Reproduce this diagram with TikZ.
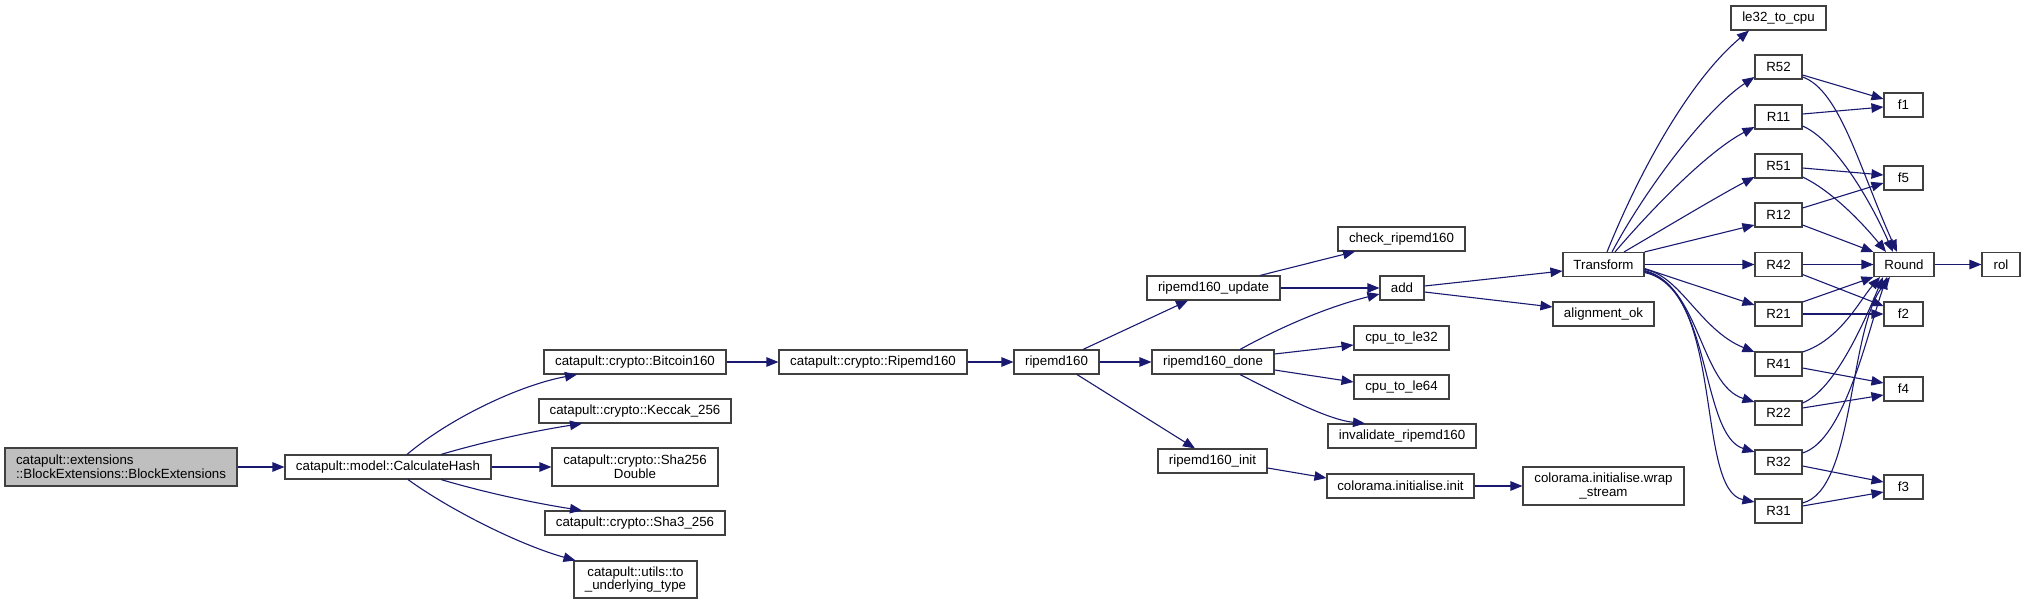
\documentclass[tikz,border=0pt]{standalone}
\usepackage{fontspec}
\setmainfont{Liberation Sans}
\usetikzlibrary{arrows.meta}
\definecolor{edgeblue}{HTML}{191970}
\definecolor{rootgray}{HTML}{BFBFBF}
\tikzset{
  nd/.style={draw=black!75, line width=1.1pt, fill=white, inner sep=0pt,
    minimum height=24pt, font=\fontsize{13.3}{13.8}\selectfont, align=center},
  ed/.style={draw=edgeblue, line width=1.1pt, -{Triangle[length=12pt,width=9.5pt]}}
}
\begin{document}
\begin{tikzpicture}[x=1pt,y=-1pt]
\useasboundingbox (0,0) rectangle (2026,604);
% column 1-2
\node[nd, fill=rootgray, align=left, minimum width=232pt, minimum height=38pt] (root) at (121,467) {catapult::extensions\\::BlockExtensions::BlockExtensions};
\node[nd, minimum width=206pt] (calc) at (388,467) {catapult::model::CalculateHash};
% column 3
\node[nd, minimum width=182pt] (btc) at (635,362) {catapult::crypto::Bitcoin160};
\node[nd, minimum width=192pt] (kec) at (635,411) {catapult::crypto::Keccak\_256};
\node[nd, minimum width=166pt, minimum height=38pt] (sha) at (635,467) {catapult::crypto::Sha256\\Double};
\node[nd, minimum width=180pt] (shathree) at (635,523) {catapult::crypto::Sha3\_256};
\node[nd, minimum width=123pt, minimum height=37pt] (tut) at (635.5,579.5) {catapult::utils::to\\\_underlying\_type};
% chain
\node[nd, minimum width=188pt] (rip) at (873,362) {catapult::crypto::Ripemd160};
\node[nd, minimum width=85pt] (rmd) at (1056.5,362) {ripemd160};
\node[nd, minimum width=133pt] (upd) at (1213.5,288) {ripemd160\_update};
\node[nd, minimum width=122pt] (done) at (1213,362) {ripemd160\_done};
\node[nd, minimum width=109pt] (init) at (1212.5,461) {ripemd160\_init};
\node[nd, minimum width=127pt] (chk) at (1401.5,239) {check\_ripemd160};
\node[nd, minimum width=44pt] (add) at (1402,288) {add};
\node[nd, minimum width=95pt] (ctlt) at (1401.5,338) {cpu\_to\_le32};
\node[nd, minimum width=95pt] (ctls) at (1401.5,387) {cpu\_to\_le64};
\node[nd, minimum width=148pt] (inv) at (1402,436) {invalidate\_ripemd160};
\node[nd, minimum width=147pt] (cinit) at (1400.5,486) {colorama.initialise.init};
\node[nd, minimum width=81pt] (tr) at (1603.5,264.5) {Transform};
\node[nd, minimum width=101pt] (aok) at (1603.5,314) {alignment\_ok};
\node[nd, minimum width=161pt, minimum height=38pt] (wrap) at (1603.5,486) {colorama.initialise.wrap\\\_stream};
% R column
\node[nd, minimum width=95pt] (lecpu) at (1778.5,18) {le32\_to\_cpu};
\node[nd, minimum width=47pt] (rfivetwo) at (1778.5,67) {R52};
\node[nd, minimum width=47pt] (roneone) at (1778.5,117) {R11};
\node[nd, minimum width=47pt] (rfiveone) at (1778.5,166) {R51};
\node[nd, minimum width=47pt] (ronetwo) at (1778.5,215) {R12};
\node[nd, minimum width=47pt] (rfourtwo) at (1778.5,264.5) {R42};
\node[nd, minimum width=47pt] (rtwoone) at (1778.5,314) {R21};
\node[nd, minimum width=47pt] (rfourone) at (1778.5,364) {R41};
\node[nd, minimum width=47pt] (rtwotwo) at (1778.5,413) {R22};
\node[nd, minimum width=47pt] (rthreetwo) at (1778.5,462) {R32};
\node[nd, minimum width=47pt] (rthreeone) at (1778.5,511) {R31};
% f column
\node[nd, minimum width=39pt] (fone) at (1903.5,105) {f1};
\node[nd, minimum width=39pt] (ffive) at (1903.5,178) {f5};
\node[nd, minimum width=60pt] (rnd) at (1904,264.5) {Round};
\node[nd, minimum width=39pt] (ftwo) at (1903.5,314) {f2};
\node[nd, minimum width=39pt] (ffour) at (1903.5,389) {f4};
\node[nd, minimum width=39pt] (fthree) at (1903.5,487) {f3};
\node[nd, minimum width=38pt] (rol) at (2001,264.5) {rol};
% edges left
\draw[ed] (root.east) -- (calc.west);
\draw[ed] ([xshift=19pt]calc.north) .. controls (450,418) and (520,385) .. ([xshift=-58pt]btc.south);
\draw[ed] ([xshift=53pt]calc.north) .. controls (490,440) and (540,430) .. ([xshift=-53pt]kec.south);
\draw[ed] (calc.east) -- (sha.west);
\draw[ed] ([xshift=53pt]calc.south) .. controls (490,494) and (540,504) .. ([xshift=-53pt]shathree.north);
\draw[ed] ([xshift=20pt]calc.south) .. controls (450,510) and (520,545) .. ([xshift=-60pt]tut.north);
\draw[ed] (btc.east) -- (rip.west);
\draw[ed] (rip.east) -- (rmd.west);
\draw[ed] ([xshift=26.5pt]rmd.north) -- ([xshift=-25.5pt]upd.south);
\draw[ed] (rmd.east) -- (done.west);
\draw[ed] ([xshift=20.5pt]rmd.south) -- ([xshift=-17.5pt]init.north);
\draw[ed] ([xshift=46.5pt]upd.north) -- ([xshift=-46.5pt]chk.south);
\draw[ed] (upd.east) -- (add.west);
\draw[ed] ([xshift=27pt]done.north) .. controls (1290,322) and (1335,305) .. ([yshift=-6pt]add.west);
\draw[ed] ([yshift=8pt]done.east) -- ([yshift=-7pt]ctlt.west);
\draw[ed] ([yshift=-8pt]done.east) -- ([yshift=5pt]ctls.west);
\draw[ed] ([xshift=27pt]done.south) .. controls (1290,400) and (1330,420) .. ([xshift=-37pt]inv.north);
\draw[ed] ([yshift=-7pt]init.east) -- ([yshift=8pt]cinit.west);
\draw[ed] (cinit.east) -- (wrap.west);
\draw[ed] ([yshift=2pt]add.east) -- ([yshift=-6.5pt]tr.west);
\draw[ed] ([yshift=-4pt]add.east) -- ([yshift=7pt]aok.west);
% Transform edges
\draw[ed] ([xshift=3.5pt]tr.north) .. controls (1640,170) and (1690,80) .. ([xshift=-29.5pt]lecpu.south);
\draw[ed] ([xshift=8.5pt]tr.north) .. controls (1645,190) and (1705,110) .. ([yshift=-10pt]rfivetwo.west);
\draw[ed] ([xshift=11.5pt]tr.north) .. controls (1655,205) and (1710,150) .. ([yshift=-10pt]roneone.west);
\draw[ed] ([xshift=20.5pt]tr.north) .. controls (1670,225) and (1720,195) .. ([yshift=-11pt]rfiveone.west);
\draw[ed] (tr.north east) -- ([yshift=-10pt]ronetwo.west);
\draw[ed] (tr.east) -- (rfourtwo.west);
\draw[ed] ([yshift=-4pt]tr.east) -- ([yshift=9pt]rtwoone.west);
\draw[ed] ([yshift=-5pt]tr.east) .. controls (1680,275) and (1700,330) .. ([yshift=12pt]rfourone.west);
\draw[ed] ([yshift=-6pt]tr.east) .. controls (1700,285) and (1700,385) .. ([yshift=11pt]rtwotwo.west);
\draw[ed] ([yshift=-7pt]tr.east) .. controls (1712,287) and (1700,435) .. ([yshift=10pt]rthreetwo.west);
\draw[ed] ([yshift=-8pt]tr.east) .. controls (1725,290) and (1695,490) .. ([yshift=9pt]rthreeone.west);
% R to f / Round
\draw[ed] ([yshift=-8pt]rfivetwo.east) -- ([yshift=6pt]fone.west);
\draw[ed] ([yshift=-10pt]rfivetwo.east) .. controls (1840,90) and (1860,170) .. ([xshift=-7pt]rnd.north);
\draw[ed] ([yshift=3pt]roneone.east) -- ([yshift=-2pt]fone.west);
\draw[ed] ([yshift=-9pt]roneone.east) .. controls (1835,140) and (1870,200) .. ([xshift=-11pt]rnd.north);
\draw[ed] ([yshift=-2pt]rfiveone.east) -- ([yshift=3pt]ffive.west);
\draw[ed] ([yshift=-11pt]rfiveone.east) .. controls (1830,190) and (1860,220) .. ([xshift=-18pt]rnd.north);
\draw[ed] ([yshift=7pt]ronetwo.east) -- ([yshift=-5pt]ffive.west);
\draw[ed] ([yshift=-10pt]ronetwo.east) -- (rnd.north west);
\draw[ed] (rfourtwo.east) -- (rnd.west);
\draw[ed] ([yshift=-10pt]rfourtwo.east) -- ([yshift=8pt]ftwo.west);
\draw[ed] ([yshift=12pt]rtwoone.east) -- (rnd.south west);
\draw[ed] (rtwoone.east) -- (ftwo.west);
\draw[ed] ([yshift=12pt]rfourone.east) .. controls (1840,340) and (1860,300) .. ([xshift=-24pt]rnd.south);
\draw[ed] ([yshift=-4pt]rfourone.east) -- ([yshift=6pt]ffour.west);
\draw[ed] ([yshift=10pt]rtwotwo.east) .. controls (1835,390) and (1865,320) .. ([xshift=-21pt]rnd.south);
\draw[ed] ([yshift=5pt]rtwotwo.east) -- ([yshift=-6pt]ffour.west);
\draw[ed] ([yshift=9pt]rthreetwo.east) .. controls (1845,440) and (1868,330) .. ([xshift=-17pt]rnd.south);
\draw[ed] ([yshift=-4pt]rthreetwo.east) -- ([yshift=5pt]fthree.west);
\draw[ed] ([yshift=8pt]rthreeone.east) .. controls (1855,490) and (1848,330) .. ([xshift=-14pt]rnd.south);
\draw[ed] ([yshift=5pt]rthreeone.east) -- ([yshift=-5pt]fthree.west);
\draw[ed] (rnd.east) -- (rol.west);
\end{tikzpicture}
\end{document}
